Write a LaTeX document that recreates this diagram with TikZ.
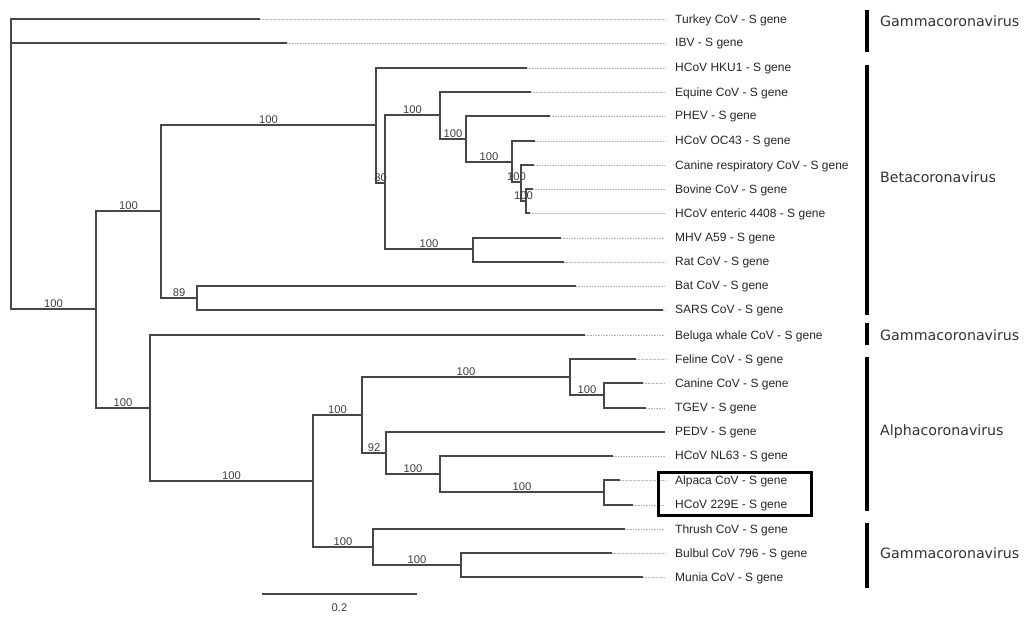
\documentclass[tikz,border=0pt]{standalone}
\usepackage{fontspec}
\newfontfamily\leaffont{Liberation Sans}
\newfontfamily\cladefont{DejaVu Sans}
\tikzset{
  branch/.style={draw=black!72, line width=1.1pt},
  tail/.style={draw=black!30, line width=0.6pt, dash pattern=on 0.8pt off 0.8pt},
  leaf/.style={anchor=west, inner xsep=10pt, inner ysep=0pt, text=black!85,
    yshift=-1pt, font=\leaffont\fontsize{12}{13}\selectfont},
  boot/.style={pos=0.75, above, inner sep=1.2pt, text=black!75,
    font=\leaffont\fontsize{11.2}{12}\selectfont},
  clade/.style={line width=3.5pt, draw=black},
  cladelabel/.style={anchor=west, inner sep=0pt, text=black!80,
    font=\cladefont\fontsize{14.2}{15}\selectfont},
}
\begin{document}
\begin{tikzpicture}[x=1pt,y=-1pt]
\useasboundingbox (0,0) rectangle (1028,618);
\fill[white] (0,0) rectangle (1028,618);

% inner nodes
\coordinate (root) at (11,150);
\coordinate (nA) at (96,309);
\coordinate (nB) at (161,211);
\coordinate (nD) at (376,125);
\coordinate (nF) at (385,183);
\coordinate (nG) at (440,115);
\coordinate (nI) at (466,139);
\coordinate (nJ) at (512,162);
\coordinate (nK) at (521,182);
\coordinate (nL) at (526,201);
\coordinate (nH) at (473,249);
\coordinate (nE) at (197,298);
\coordinate (nC) at (150,408);
\coordinate (nM) at (313,481);
\coordinate (nN) at (362,415);
\coordinate (nO) at (570,377);
\coordinate (nP) at (604,395);
\coordinate (nQ) at (386,453);
\coordinate (nR) at (440,474);
\coordinate (nS) at (604,492);
\coordinate (nT) at (373,547);
\coordinate (nU) at (461,565);

% tips and names
\coordinate (tTurkey) at (260,19);   \node[leaf] (lTurkey) at (665,19) {Turkey CoV - S gene};
\coordinate (tIBV) at (287,43);      \node[leaf] (lIBV) at (665,43) {IBV - S gene};
\coordinate (tHKU) at (527,68);      \node[leaf] (lHKU) at (665,68) {HCoV HKU1 - S gene};
\coordinate (tEquine) at (531,92);   \node[leaf] (lEquine) at (665,92) {Equine CoV - S gene};
\coordinate (tPHEV) at (550,116);    \node[leaf] (lPHEV) at (665,116) {PHEV - S gene};
\coordinate (tOC) at (535,141);      \node[leaf] (lOC) at (665,141) {HCoV OC43 - S gene};
\coordinate (tCanResp) at (534,165); \node[leaf] (lCanResp) at (665,165) {Canine respiratory CoV - S gene};
\coordinate (tBovine) at (533,189);  \node[leaf] (lBovine) at (665,189) {Bovine CoV - S gene};
\coordinate (tEnteric) at (530,213); \node[leaf] (lEnteric) at (665,213) {HCoV enteric 4408 - S gene};
\coordinate (tMHV) at (561,238);     \node[leaf] (lMHV) at (665,238) {MHV A59 - S gene};
\coordinate (tRat) at (564,262);     \node[leaf] (lRat) at (665,262) {Rat CoV - S gene};
\coordinate (tBat) at (576,286);     \node[leaf] (lBat) at (665,286) {Bat CoV - S gene};
\coordinate (tSARS) at (663,310);    \node[leaf] (lSARS) at (665,310) {SARS CoV - S gene};
\coordinate (tBeluga) at (585,335);  \node[leaf] (lBeluga) at (665,335) {Beluga whale CoV - S gene};
\coordinate (tFeline) at (636,359);  \node[leaf] (lFeline) at (665,359) {Feline CoV - S gene};
\coordinate (tCanine) at (643,383);  \node[leaf] (lCanine) at (665,383) {Canine CoV - S gene};
\coordinate (tTGEV) at (646,408);    \node[leaf] (lTGEV) at (665,408) {TGEV - S gene};
\coordinate (tPEDV) at (665,432);    \node[leaf] (lPEDV) at (665,432) {PEDV - S gene};
\coordinate (tNL) at (613,456);      \node[leaf] (lNL) at (665,456) {HCoV NL63 - S gene};
\coordinate (tAlpaca) at (620,480);  \node[leaf] (lAlpaca) at (665,480) {Alpaca CoV - S gene};
\coordinate (t229E) at (633,505);    \node[leaf] (l229E) at (665,505) {HCoV 229E - S gene};
\coordinate (tThrush) at (625,529);  \node[leaf] (lThrush) at (665,529) {Thrush CoV - S gene};
\coordinate (tBulbul) at (612,553);  \node[leaf] (lBulbul) at (665,553) {Bulbul CoV 796 - S gene};
\coordinate (tMunia) at (643,577);   \node[leaf] (lMunia) at (665,577) {Munia CoV - S gene};

% dotted tails
\foreach \t in {Turkey,IBV,HKU,Equine,PHEV,OC,CanResp,Bovine,Enteric,MHV,Rat,Bat,SARS,
  Beluga,Feline,Canine,TGEV,PEDV,NL,Alpaca,229E,Thrush,Bulbul,Munia}
  \draw[tail] (t\t) -- (t\t -| l\t.west);

% branches
\draw[branch] (root) |- (tTurkey);
\draw[branch] (root) |- (tIBV);
\draw[branch] (root) |- (nA) node[boot] {100};
\draw[branch] (nA) |- (nB) node[boot] {100};
\draw[branch] (nA) |- (nC) node[boot] {100};
\draw[branch] (nB) |- (nD) node[boot] {100};
\draw[branch] (nB) |- (nE) node[boot] {89};
\draw[branch] (nD) |- (tHKU);
\draw[branch] (nD) |- (nF) node[boot] {80};
\draw[branch] (nF) |- (nG) node[boot] {100};
\draw[branch] (nF) |- (nH) node[boot] {100};
\draw[branch] (nG) |- (tEquine);
\draw[branch] (nG) |- (nI) node[boot] {100};
\draw[branch] (nI) |- (tPHEV);
\draw[branch] (nI) |- (nJ) node[boot] {100};
\draw[branch] (nJ) |- (tOC);
\draw[branch] (nJ) |- (nK) node[boot] {100};
\draw[branch] (nK) |- (tCanResp);
\draw[branch] (nK) |- (nL) node[boot] {100};
\draw[branch] (nL) |- (tBovine);
\draw[branch] (nL) |- (tEnteric);
\draw[branch] (nH) |- (tMHV);
\draw[branch] (nH) |- (tRat);
\draw[branch] (nE) |- (tBat);
\draw[branch] (nE) |- (tSARS);
\draw[branch] (nC) |- (tBeluga);
\draw[branch] (nC) |- (nM) node[boot] {100};
\draw[branch] (nM) |- (nN) node[boot] {100};
\draw[branch] (nM) |- (nT) node[boot] {100};
\draw[branch] (nN) |- (nO) node[boot] {100};
\draw[branch] (nN) |- (nQ) node[boot] {92};
\draw[branch] (nO) |- (tFeline);
\draw[branch] (nO) |- (nP) node[boot] {100};
\draw[branch] (nP) |- (tCanine);
\draw[branch] (nP) |- (tTGEV);
\draw[branch] (nQ) |- (tPEDV);
\draw[branch] (nQ) |- (nR) node[boot] {100};
\draw[branch] (nR) |- (tNL);
\draw[branch] (nR) |- (nS) node[boot] {100};
\draw[branch] (nS) |- (tAlpaca);
\draw[branch] (nS) |- (t229E);
\draw[branch] (nT) |- (tThrush);
\draw[branch] (nT) |- (nU) node[boot] {100};
\draw[branch] (nU) |- (tBulbul);
\draw[branch] (nU) |- (tMunia);

% scale bar
\coordinate (sb1) at (262,594);
\coordinate (sb2) at (417,594);
\draw[branch] (sb1) -- (sb2) node[midway, below=9pt, inner sep=0pt, text=black!75,
  font=\leaffont\fontsize{11.2}{12}\selectfont] (sbl) {0.2};

% highlighted pair
\draw[line width=3pt] (658,472) rectangle (811,515);

% clades
\draw[clade] (867,10) -- (867,52);
\node[cladelabel] (gGamma1) at (880,21) {Gammacoronavirus};
\draw[clade] (867,65) -- (867,315);
\node[cladelabel] (gBeta) at (880,177) {Betacoronavirus};
\draw[clade] (867,323) -- (867,345);
\node[cladelabel] (gGamma2) at (880,335) {Gammacoronavirus};
\draw[clade] (867,357) -- (867,511);
\node[cladelabel] (gAlpha) at (880,432) {Alphacoronavirus};
\draw[clade] (867,523) -- (867,588);
\node[cladelabel] (gGamma3) at (880,553) {Gammacoronavirus};
\end{tikzpicture}
\end{document}
